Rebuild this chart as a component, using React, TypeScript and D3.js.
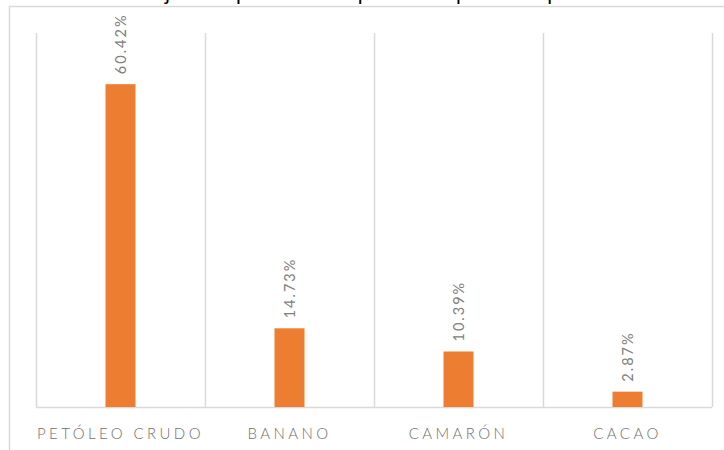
import React from "react";
import * as d3 from "d3";

const categories = ["PETÓLEO CRUDO", "BANANO", "CAMARÓN", "CACAO"];
const values = [60.42, 14.73, 10.39, 2.87];
const valueLabels = ["60.42%", "14.73%", "10.39%", "2.87%"];
const title = "Porcentaje de exportación de productos primarios por sector";

const W = 724;
const H = 450;
const plot = { left: 36, right: 712, top: 33, bottom: 407 };

export default function App() {
  const x = d3
    .scaleBand<string>()
    .domain(categories)
    .range([plot.left, plot.right])
    .paddingInner(0)
    .paddingOuter(0);
  const y = d3.scaleLinear().domain([0, 70]).range([plot.bottom, plot.top]);
  const barW = 30;
  const bounds = [...categories.map((c) => x(c) as number), plot.right];

  return (
    <svg
      width={W}
      height={H}
      style={{ position: "absolute", left: 0, top: 0, background: "#fff" }}
      fontFamily="Lato, 'Open Sans', sans-serif"
    >
      <rect x={0} y={0} width={W} height={H} fill="#fff" />
      <text
        x={W / 2}
        y={0}
        textAnchor="middle"
        fontSize={21}
        fill="#000"
      >
        {title}
      </text>
      <rect
        x={9.5}
        y={6.5}
        width={W + 10}
        height={H}
        fill="#fff"
        stroke="#d9d9d9"
        strokeWidth={1.5}
      />
      {bounds.map((bx, i) => (
        <line
          key={"g" + i}
          x1={Math.round(bx) + 0.5}
          x2={Math.round(bx) + 0.5}
          y1={plot.top}
          y2={plot.bottom}
          stroke="#d9d9d9"
          strokeWidth={1.5}
        />
      ))}
      <line
        x1={plot.left}
        x2={plot.right}
        y1={plot.bottom + 0.5}
        y2={plot.bottom + 0.5}
        stroke="#d9d9d9"
        strokeWidth={1.5}
      />
      {categories.map((c, i) => {
        const cx = (x(c) as number) + x.bandwidth() / 2;
        return (
          <g key={c}>
            <rect
              x={cx - barW / 2}
              y={y(values[i])}
              width={barW}
              height={plot.bottom - y(values[i])}
              fill="#ED7D31"
            />
            <text
              transform={`translate(${cx + 5},${y(values[i]) - 10}) rotate(-90)`}
              fontSize={14.5}
              fill="#808080"
              letterSpacing={2}
            >
              {valueLabels[i]}
            </text>
            <text
              x={cx}
              y={439}
              textAnchor="middle"
              fontSize={15}
              fontWeight={300}
              fill="#6f6f6f"
              letterSpacing={3.4}
            >
              {c}
            </text>
          </g>
        );
      })}
    </svg>
  );
}
